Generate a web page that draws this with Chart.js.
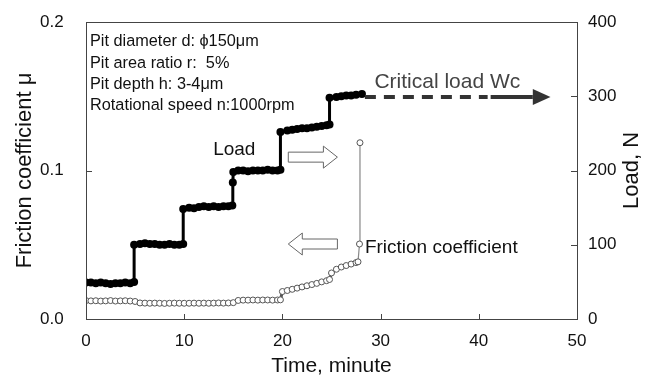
<!DOCTYPE html>
<html>
<head>
<meta charset="utf-8">
<script src="https://cdn.jsdelivr.net/npm/chart.js@4"></script>
<style>
  html, body { margin: 0; padding: 0; background: #fff; }
  #wrap { width: 645px; height: 378px; }
</style>
</head>
<body>
<div id="wrap"><canvas id="myChart" width="645" height="378"></canvas></div>
<script>
// Load steps (right axis, N)
const loadTime = [0, 0.5, 1, 1.5, 2, 2.5, 3, 3.5, 4, 4.5, 4.9,
  4.9, 5.5, 6, 6.5, 7, 7.5, 8, 8.5, 9, 9.5, 9.9,
  9.9, 10.5, 11, 11.5, 12, 12.5, 13, 13.5, 14, 14.5, 14.9,
  14.95, 15.0, 15.5, 16, 16.5, 17, 17.5, 18, 18.5, 19, 19.5, 19.8,
  19.8, 20.5, 21, 21.5, 22, 22.5, 23, 23.5, 24, 24.5, 24.8,
  24.8, 25.5, 26, 26.5, 27, 27.5, 28.1];
const loadValue = [49, 49, 48, 49, 48, 47, 48, 48, 49, 48, 50,
  100, 101, 102, 101, 101, 100, 100, 101, 100, 100, 101,
  148, 150, 149, 151, 152, 151, 152, 151, 152, 152, 153,
  184, 198, 200, 200, 199, 200, 200, 200, 201, 200, 200, 201,
  252, 254, 255, 256, 257, 257, 258, 259, 260, 261, 262,
  298, 299, 300, 301, 301, 302, 303];

// Friction coefficient (left axis)
const fricTime = [0, 0.5, 1, 1.5, 2, 2.5, 3, 3.5, 4, 4.5, 5,
  5.5, 6, 6.5, 7, 7.5, 8, 8.5, 9, 9.5, 10, 10.5, 11, 11.5, 12, 12.5, 13, 13.5, 14, 14.5, 15,
  15.5, 16, 16.5, 17, 17.5, 18, 18.5, 19, 19.5, 19.8,
  20, 20.5, 21, 21.5, 22, 22.5, 23, 23.5, 24, 24.5, 24.8,
  25, 25.5, 26, 26.5, 27, 27.5, 27.7,
  27.85, 27.9];
const fricValue = [0.0124, 0.0122, 0.0123, 0.0121, 0.0122, 0.0124, 0.0121, 0.0122, 0.0123, 0.0121, 0.0118,
  0.0108, 0.0107, 0.0106, 0.0107, 0.0106, 0.0105, 0.0106, 0.0107, 0.0106, 0.0106, 0.0106, 0.0107, 0.0106, 0.0107, 0.0106, 0.0107, 0.0108, 0.0107, 0.0108, 0.0110,
  0.0125, 0.0127, 0.0127, 0.0128, 0.0127, 0.0128, 0.0128, 0.0127, 0.0128, 0.0129,
  0.0185, 0.0192, 0.0200, 0.0208, 0.0216, 0.0224, 0.0232, 0.0240, 0.0250, 0.0258, 0.0266,
  0.0310, 0.0335, 0.0350, 0.0360, 0.0370, 0.0380, 0.0385,
  0.0505, 0.1187];

const xTicks = [0, 10, 20, 30, 40, 50];
const muTicks = [0.0, 0.1, 0.2];
const loadTicks = [0, 100, 200, 300, 400];

const infoLines = [
  'Pit diameter d: \u03d5150\u03bcm',
  'Pit area ratio r:  5%',
  'Pit depth h: 3-4\u03bcm',
  'Rotational speed n:1000rpm'
];

const FONT = 'Arial, "Liberation Sans", Helvetica, sans-serif';
const AXIS = '#444';

function outlineArrow(ctx, x0, x1, yc, dir) {
  // dir = 1 points right, -1 points left
  const bh = 5, hh = 11, hl = 14;
  const tip = dir > 0 ? x1 : x0;
  const tail = dir > 0 ? x0 : x1;
  const neck = tip - dir * hl;
  ctx.beginPath();
  ctx.moveTo(tail, yc - bh);
  ctx.lineTo(neck, yc - bh);
  ctx.lineTo(neck, yc - hh);
  ctx.lineTo(tip, yc);
  ctx.lineTo(neck, yc + hh);
  ctx.lineTo(neck, yc + bh);
  ctx.lineTo(tail, yc + bh);
  ctx.closePath();
  ctx.fillStyle = '#fff';
  ctx.fill();
  ctx.strokeStyle = '#666';
  ctx.lineWidth = 1;
  ctx.stroke();
}

const decor = {
  id: 'decor',
  afterDraw(chart) {
    const { ctx, chartArea: a, scales } = chart;
    const x = scales.x, y = scales.y, y1 = scales.y1;
    ctx.save();

    // frame
    ctx.strokeStyle = AXIS;
    ctx.lineWidth = 1;
    ctx.strokeRect(a.left + 0.5, a.top + 0.5, a.right - a.left, a.bottom - a.top);

    // inward ticks
    ctx.beginPath();
    xTicks.forEach(v => {
      const px = Math.round(x.getPixelForValue(v)) + 0.5;
      ctx.moveTo(px, a.bottom); ctx.lineTo(px, a.bottom - 5);
    });
    muTicks.forEach(v => {
      const py = Math.round(y.getPixelForValue(v)) + 0.5;
      ctx.moveTo(a.left, py); ctx.lineTo(a.left + 6, py);
    });
    loadTicks.forEach(v => {
      const py = Math.round(y1.getPixelForValue(v)) + 0.5;
      ctx.moveTo(a.right, py); ctx.lineTo(a.right - 6, py);
    });
    ctx.stroke();

    // axis titles
    ctx.fillStyle = '#111';
    ctx.font = '21px ' + FONT;
    ctx.textAlign = 'center';
    ctx.textBaseline = 'middle';
    ctx.fillText('Time, minute', (a.left + a.right) / 2, 366);
    ctx.font = '22px ' + FONT;
    ctx.save();
    ctx.translate(25, (a.top + a.bottom) / 2);
    ctx.rotate(-Math.PI / 2);
    ctx.fillText('Friction coefficient \u03bc', 0, 0);
    ctx.restore();
    ctx.save();
    ctx.translate(632, (a.top + a.bottom) / 2);
    ctx.rotate(-Math.PI / 2);
    ctx.fillText('Load, N', 0, 0);
    ctx.restore();

    // info text
    ctx.font = '16.3px ' + FONT;
    ctx.textAlign = 'left';
    infoLines.forEach((t, i) => ctx.fillText(t, a.left + 4, a.top + 20 + i * 21.3));

    // Load / Friction labels
    ctx.font = '19px ' + FONT;
    ctx.textAlign = 'center';
    ctx.fillText('Load', x.getPixelForValue(15.1), y.getPixelForValue(0.1138));
    ctx.textAlign = 'left';
    ctx.fillText('Friction coefficient', x.getPixelForValue(28.4), y.getPixelForValue(0.0478));

    // hollow arrows
    outlineArrow(ctx, x.getPixelForValue(20.6), x.getPixelForValue(25.6), y.getPixelForValue(0.109), 1);
    outlineArrow(ctx, x.getPixelForValue(20.6), x.getPixelForValue(25.6), y.getPixelForValue(0.0505), -1);

    // critical load arrow
    const yc = y1.getPixelForValue(299);
    const xs = x.getPixelForValue(28.4), xd = x.getPixelForValue(40.9);
    const xn = x.getPixelForValue(45.5), xt = x.getPixelForValue(47.3);
    ctx.strokeStyle = '#333';
    ctx.fillStyle = '#333';
    ctx.lineWidth = 4;
    ctx.setLineDash([11, 8]);
    ctx.beginPath(); ctx.moveTo(xs, yc); ctx.lineTo(xd, yc); ctx.stroke();
    ctx.setLineDash([]);
    ctx.beginPath(); ctx.moveTo(xd + 3, yc); ctx.lineTo(xn, yc); ctx.stroke();
    ctx.beginPath();
    ctx.moveTo(xn, yc - 8); ctx.lineTo(xt, yc); ctx.lineTo(xn, yc + 8); ctx.closePath();
    ctx.fill();
    ctx.fillStyle = '#444';
    ctx.font = '21px ' + FONT;
    ctx.textAlign = 'center';
    ctx.fillText('Critical load Wc', x.getPixelForValue(36.8), y1.getPixelForValue(319));

    ctx.restore();
  }
};

const chart = new Chart(document.getElementById('myChart'), {
  type: 'line',
  data: {
    datasets: [{
      label: 'Load',
      data: loadTime.map((t, i) => ({ x: t, y: loadValue[i] })),
      yAxisID: 'y1',
      borderColor: '#000',
      borderWidth: 3,
      pointRadius: 4,
      pointBackgroundColor: '#000',
      pointBorderColor: '#000',
      pointBorderWidth: 0,
      tension: 0
    }, {
      label: 'Friction coefficient',
      data: fricTime.map((t, i) => ({ x: t, y: fricValue[i] })),
      yAxisID: 'y',
      borderColor: '#555',
      borderWidth: 3,
      pointRadius: 3,
      pointBackgroundColor: '#fff',
      pointBorderColor: '#555',
      pointBorderWidth: 1,
      tension: 0,
      // the final jump is drawn as a thin grey line
      segment: {
        borderWidth: c => c.p1.parsed.y > 0.045 ? 1.2 : undefined,
        borderColor: c => c.p1.parsed.y > 0.045 ? '#888' : undefined
      }
    }]
  },
  options: {
    responsive: false,
    animation: false,
    events: [],
    // left padding holds the left tick labels (drawn from the scale's left edge)
    layout: { autoPadding: false, padding: { left: 40, right: 0, top: 22, bottom: 0 } },
    plugins: { legend: { display: false }, tooltip: { enabled: false } },
    scales: {
      x: {
        type: 'linear', min: 0, max: 50,
        afterBuildTicks: s => { s.ticks = xTicks.map(v => ({ value: v })); },
        afterFit: s => { s.height = 59; },
        grid: { display: false, drawTicks: false },
        border: { display: false },
        ticks: { padding: 12, color: '#111', font: { family: FONT, size: 17 } }
      },
      y: {
        position: 'left', min: 0, max: 0.2,
        afterBuildTicks: s => { s.ticks = muTicks.map(v => ({ value: v })); },
        afterFit: s => { s.width = 46; },
        grid: { display: false, drawTicks: false },
        border: { display: false },
        ticks: { padding: 0, crossAlign: 'far', color: '#111', font: { family: FONT, size: 17 },
          callback: v => v.toFixed(1) }
      },
      y1: {
        position: 'right', min: 0, max: 400,
        afterBuildTicks: s => { s.ticks = loadTicks.map(v => ({ value: v })); },
        afterFit: s => { s.width = 68; },
        grid: { display: false, drawTicks: false },
        border: { display: false },
        ticks: { padding: 11, color: '#111', font: { family: FONT, size: 17 } }
      }
    }
  },
  plugins: [decor]
});
</script>
</body>
</html>
